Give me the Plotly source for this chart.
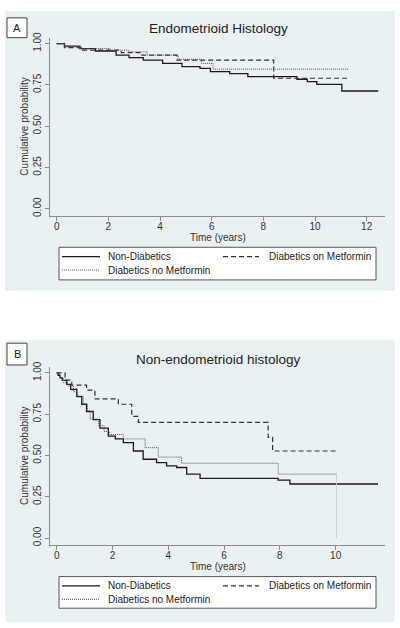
import plotly.graph_objects as go

W, H = 400, 628

# ---------------- data ----------------
series_names = ["Non-Diabetics", "Diabetics on Metformin", "Diabetics no Metformin"]

A_non_t = [0, 0.3, 0.9, 1.5, 2.3, 2.8, 3.35, 4.1, 4.85, 5.55, 5.95, 6.7, 7.4, 9.3, 9.7, 10.07, 11.04, 12.45]
A_non_s = [1.0, 0.985, 0.97, 0.955, 0.93, 0.915, 0.90, 0.88, 0.86, 0.85, 0.83, 0.818, 0.80, 0.784, 0.77, 0.753, 0.713, 0.713]

A_met_t = [0, 0.3, 1.0, 2.5, 3.3, 4.65, 8.4, 11.3]
A_met_s = [1.0, 0.975, 0.96, 0.945, 0.93, 0.90, 0.79, 0.79]

A_nomet_t = [0, 0.3, 0.9, 2.06, 2.77, 3.5, 4.7, 5.6, 6.05, 11.3]
A_nomet_s = [1.0, 0.98, 0.97, 0.96, 0.95, 0.93, 0.905, 0.88, 0.845, 0.845]

B_non_t = [0, 0.05, 0.12, 0.2, 0.36, 0.5, 0.72, 0.9, 1.07, 1.31, 1.55, 1.85, 2.1, 2.39, 2.75, 3.1, 3.58, 3.94, 4.3, 4.66, 5.14, 7.94, 8.36, 11.52]
B_non_s = [1.0, 0.985, 0.97, 0.955, 0.93, 0.90, 0.856, 0.81, 0.766, 0.717, 0.666, 0.617, 0.60, 0.577, 0.527, 0.477, 0.457, 0.437, 0.427, 0.387, 0.361, 0.351, 0.327, 0.327]

B_met_t = [0, 0.3, 0.54, 1.07, 1.37, 2.21, 2.69, 2.93, 7.58, 7.74, 10.03]
B_met_s = [1.0, 0.956, 0.926, 0.896, 0.842, 0.81, 0.737, 0.70, 0.61, 0.527, 0.527]

B_nomet_t = [0, 0.1, 0.25, 0.4, 0.6, 0.75, 0.95, 1.1, 1.2, 1.5, 1.7, 1.9, 2.39, 3.17, 3.64, 4.48, 7.94, 10.03]
B_nomet_s = [1.0, 0.97, 0.94, 0.92, 0.886, 0.86, 0.81, 0.77, 0.72, 0.68, 0.645, 0.627, 0.60, 0.547, 0.49, 0.453, 0.387, 0.387]
# final drop of the "no Metformin" curve to zero (drawn faintly in the original)
B_nomet_drop_t = [10.03, 10.03]
B_nomet_drop_s = [0.387, 0.0]

y_ticks = [0, 0.25, 0.5, 0.75, 1.0]
y_tick_text = ["0.00", "0.25", "0.50", "0.75", "1.00"]
A_x_ticks = [0, 2, 4, 6, 8, 10, 12]
B_x_ticks = [0, 2, 4, 6, 8, 10]

panel_titles = ["Endometrioid Histology", "Non-endometrioid histology"]
panel_letters = ["A", "B"]
x_title = "Time (years)"
y_title = "Cumulative probability"

# ---------------- styles ----------------
FONT = "Liberation Sans, Arial, sans-serif"
BG = "#eaf1f3"
AXC = "#8c8c8c"
TXT = "#333333"
styles = [
    dict(color="#1a1a1a", width=1.3, dash="solid"),
    dict(color="#333333", width=1.2, dash="5px,3px"),
    dict(color="#555555", width=1.0, dash="1px,1px"),
]

def py(p):
    return 1 - p / H

def px(p):
    return p / W

fig = go.Figure()

panels = [
    dict(t=[A_non_t, A_met_t, A_nomet_t], s=[A_non_s, A_met_s, A_nomet_s],
         xa="x", ya="y", bg=(5, 288), plot=(32, 212), xr=[-0.26, 12.71], xt=A_x_ticks,
         title_y=23, box=(12, 32), xtitle_y=234, leg=(244, 277)),
    dict(t=[B_non_t, B_met_t, B_nomet_t], s=[B_non_s, B_met_s, B_nomet_s],
         xa="x2", ya="y2", bg=(338, 623), plot=(365, 545), xr=[-0.24, 11.77], xt=B_x_ticks,
         title_y=357, box=(341, 363), xtitle_y=567, leg=(577, 609)),
]

def ann(text, x, y, size, color, xanchor="center", angle=0):
    return dict(text=text, xref="paper", yref="paper", x=px(x), y=py(y),
                xanchor=xanchor, yanchor="middle", showarrow=False, textangle=angle,
                font=dict(family=FONT, size=size, color=color))

shapes = []
annotations = []
for i, P in enumerate(panels):
    for k in range(3):
        fig.add_trace(go.Scatter(
            x=P["t"][k], y=P["s"][k], mode="lines", line_shape="hv",
            line=styles[k], name=series_names[k], showlegend=False,
            xaxis=P["xa"], yaxis=P["ya"], hoverinfo="skip"))
    if i == 1:
        fig.add_trace(go.Scatter(
            x=B_nomet_drop_t, y=B_nomet_drop_s, mode="lines",
            line=dict(color="#cfcfcf", width=1), showlegend=False,
            xaxis="x2", yaxis="y2", hoverinfo="skip"))
    # panel background
    shapes.append(dict(type="rect", xref="paper", yref="paper", layer="below",
                       x0=px(5), x1=px(395), y0=py(P["bg"][1]), y1=py(P["bg"][0]),
                       fillcolor=BG, line=dict(width=0)))
    # letter box
    shapes.append(dict(type="rect", xref="paper", yref="paper",
                       x0=px(7), x1=px(27), y0=py(P["box"][1]), y1=py(P["box"][0]),
                       fillcolor="white", line=dict(color="#444444", width=1)))
    annotations.append(ann(panel_letters[i], 17, (P["box"][0] + P["box"][1]) / 2, 11, "#222"))
    annotations.append(ann(panel_titles[i], 218, P["title_y"], 13.5, "#222"))
    annotations.append(ann(x_title, 218, P["xtitle_y"], 10, TXT))
    annotations.append(ann(y_title, 25, (P["plot"][0] + P["plot"][1]) / 2, 10, TXT, angle=-90))
    # legend box
    l0, l1 = P["leg"]
    shapes.append(dict(type="rect", xref="paper", yref="paper",
                       x0=px(59), x1=px(376), y0=py(l1), y1=py(l0),
                       fillcolor="white", line=dict(color="#555555", width=1)))
    r1 = l0 + 9.5
    r2 = l0 + 23
    pos = [(62, 100, 106, r1), (223, 259, 267, r1), (62, 100, 106, r2)]
    for k, (a, b, tx, ry) in enumerate(pos):
        shapes.append(dict(type="line", xref="paper", yref="paper",
                           x0=px(a), x1=px(b), y0=py(ry), y1=py(ry),
                           line=dict(color=styles[k]["color"], width=styles[k]["width"],
                                     dash=styles[k]["dash"])))
        annotations.append(ann(series_names[k], tx, ry, 10, "#222", xanchor="left"))

axis_common = dict(showline=True, linecolor=AXC, linewidth=1, ticks="outside",
                   ticklen=4, tickcolor=AXC, tickfont=dict(family=FONT, size=10, color=TXT),
                   zeroline=False)

yr = [-0.0419, 1.036]
fig.update_layout(
    width=W, height=H, margin=dict(l=0, r=0, t=0, b=0),
    paper_bgcolor="white", plot_bgcolor="white",
    xaxis=dict(domain=[px(50), px(385)], range=panels[0]["xr"], tickvals=A_x_ticks,
               showgrid=False, anchor="y", ticklabelstandoff=-3, **axis_common),
    yaxis=dict(domain=[py(212), py(32)], range=yr, tickvals=y_ticks, ticktext=y_tick_text,
               tickangle=-90, showgrid=True, gridcolor=BG, gridwidth=1, anchor="x", **axis_common),
    xaxis2=dict(domain=[px(50), px(385)], range=panels[1]["xr"], tickvals=B_x_ticks,
                showgrid=False, anchor="y2", ticklabelstandoff=-3, **axis_common),
    yaxis2=dict(domain=[py(545), py(365)], range=yr, tickvals=y_ticks, ticktext=y_tick_text,
                tickangle=-90, showgrid=True, gridcolor=BG, gridwidth=1, anchor="x2", **axis_common),
    shapes=shapes, annotations=annotations, showlegend=False,
)

fig.write_html("out.html", config={"displayModeBar": False},
               post_script="document.body.style.margin='0';")
